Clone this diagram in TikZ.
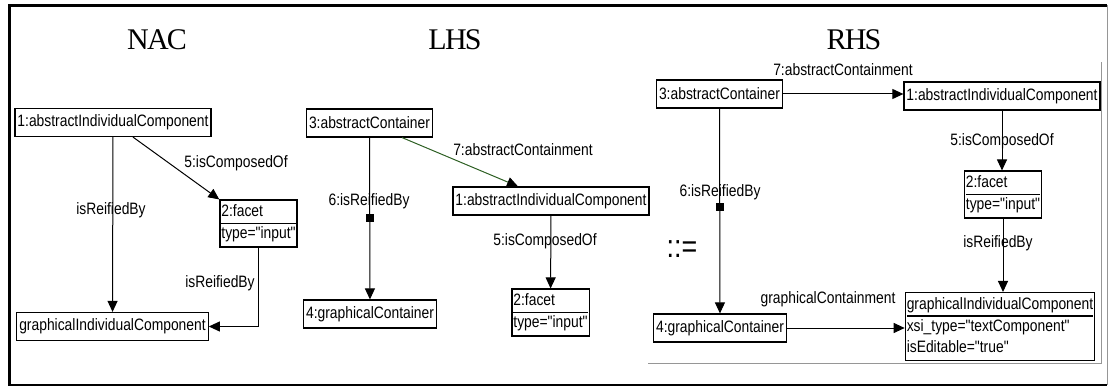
\documentclass[tikz,border=0pt]{standalone}
\usepackage{fontspec}
\usetikzlibrary{arrows.meta}
\newfontfamily\umlfont[FakeStretch=0.84]{Liberation Sans}
\newfontfamily\titlefont[LetterSpace=-6]{Liberation Serif}
\definecolor{containGreen}{RGB}{45,95,35}
\definecolor{frameGray}{RGB}{150,150,150}
\setlength{\arrayrulewidth}{1.1pt}
\renewcommand{\arraystretch}{1.1}

\begin{document}
\begin{tikzpicture}[x=1pt,y=-1pt,
  obj/.style={draw=black,line width=1.2pt,fill=white,font=\umlfont\fontsize{16.5}{19}\selectfont,inner xsep=2.5pt,inner ysep=0pt,minimum height=28pt},
  attr/.style={obj,inner xsep=1.5pt,inner ysep=2pt,minimum height=0pt},
  lbl/.style={font=\umlfont\fontsize{16.5}{19}\selectfont,inner sep=0pt},
  title/.style={font=\titlefont\fontsize{30}{30}\selectfont},
  rel/.style={line width=1pt,-{Triangle[length=11pt,width=10pt,color=black]}},
  sqmark/.style={fill=black,minimum size=8pt,inner sep=0pt}]
\useasboundingbox (0,0) rectangle (1108,387);
% frame
\draw[line width=3pt] (9.5,385) -- (9.5,5.5) -- (1107,5.5);
\draw[frameGray,line width=0.8pt] (1107,5.5) -- (1107,385);
\draw[line width=2pt] (8,384.5) -- (1107,384.5);
\draw[frameGray,line width=0.8pt] (648,363) -- (1101,363) -- (1101,62);
% titles
\node[title] (tNAC) at (157,40) {NAC};
\node[title] (tLHS) at (455,40) {LHS};
\node[title] (tRHS) at (854,40) {RHS};
% NAC
\node[obj] (nacA1) at (113,122.5) {1:abstractIndividualComponent};
\node[attr] (nacF2) at (258.5,223.5) {\begin{tabular}{@{}l@{}}2:facet\\\hline type="input"\end{tabular}};
\node[obj] (nacG) at (112.5,326.5) {graphicalIndividualComponent};
\draw[rel] (nacA1) -- (nacG);
\draw[rel] ([xshift=20pt]nacA1.south) -- (nacF2.north west);
\draw[rel] (nacF2.south) |- (nacG.east);
\node[lbl] (nacL1) at (111,210) {isReifiedBy};
\node[lbl] (nacL2) at (236,163) {5:isComposedOf};
\node[lbl] (nacL3) at (220,283) {isReifiedBy};
% LHS
\node[obj] (lhsC3) at (369.5,123) {3:abstractContainer};
\node[obj] (lhsA1) at (551,201) {1:abstractIndividualComponent};
\node[obj] (lhsG4) at (370,314) {4:graphicalContainer};
\node[attr] (lhsF2) at (550.5,312.5) {\begin{tabular}{@{}l@{}}2:facet\\\hline type="input"\end{tabular}};
\draw[rel] (lhsC3) -- node[sqmark,pos=0.5] (lhsSq) {} (lhsG4);
\draw[rel,containGreen] ([xshift=-31pt]lhsC3.south east) -- ([xshift=-33pt]lhsA1.north);
\draw[rel] (lhsA1) -- (lhsF2);
\node[lbl] (lhsL1) at (369,201) {6:isReifiedBy};
\node[lbl] (lhsL2) at (523,150) {7:abstractContainment};
\node[lbl] (lhsL3) at (545,241) {5:isComposedOf};
% RHS
\node[obj] (rhsC3) at (719.5,94) {3:abstractContainer};
\node[obj] (rhsA1) at (1002,96) {1:abstractIndividualComponent};
\node[attr] (rhsF2) at (1003,194.5) {\begin{tabular}{@{}l@{}}2:facet\\\hline type="input"\end{tabular}};
\node[obj] (rhsG4) at (720,328) {4:graphicalContainer};
\node[attr] (rhsGIC) at (1000,326.5) {\begin{tabular}{@{}l@{}}graphicalIndividualComponent\\\hline xsi\_type="textComponent"\\isEditable="true"\end{tabular}};
\draw[rel] (rhsC3.east) -- (rhsC3.east -| rhsA1.west);
\draw[rel] (rhsC3) -- node[sqmark,pos=0.48] (rhsSq) {} (rhsG4);
\draw[rel] (rhsA1) -- (rhsA1 |- rhsF2.north);
\draw[rel] (rhsF2) -- (rhsF2 |- rhsGIC.north);
\draw[rel] (rhsG4.east) -- (rhsG4.east -| rhsGIC.west);
\node[lbl] (rhsL1) at (843,70) {7:abstractContainment};
\node[lbl] (rhsL2) at (720,192) {6:isReifiedBy};
\node[lbl] (rhsL3) at (1002,141) {5:isComposedOf};
\node[lbl] (rhsL4) at (998,243) {isReifiedBy};
\node[lbl] (rhsL5) at (828,299) {graphicalContainment};
\node[font=\umlfont\fontsize{32}{32}\selectfont,inner sep=0pt] (defsym) at (682,249) {::=};
\end{tikzpicture}
\end{document}
